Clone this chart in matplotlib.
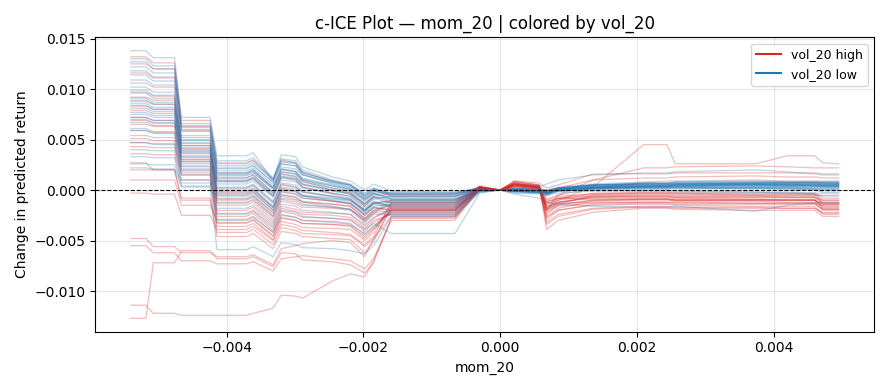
import matplotlib
matplotlib.use("Agg")
import matplotlib.pyplot as plt
from matplotlib.lines import Line2D
import numpy as np

# grid of mom_20 values where the c-ICE curves were evaluated (x 1e-3)
mom_grid = [-5.40, -5.18, -5.07, -4.76, -4.66, -4.24, -4.14, -3.71, -3.61, -3.32,
            -3.20, -2.99, -2.89, -2.45, -2.19, -1.98, -1.85, -1.59, -0.66, -0.30,
            0.00, 0.21, 0.57, 0.68, 0.85, 1.36, 2.10, 2.44, 2.56, 3.73,
            4.20, 4.60, 4.72, 4.95]

# centred change in predicted return (x 1e-3), rows with high vol_20
high_vol_curves = [
    [13.2, 13.2, 12.6, 12.6, 6.9, 6.9, 2.7, 2.7, 3.0, 1.0, 3.0, 2.7, 1.8, 0.9, 0.5, -0.6, 0.0, -0.6, -0.6, 0.3, 0,
     0.5, 0.3, -1.0, -0.6, -0.4, -0.3, -0.3, -0.4, -0.5, -0.5, -0.5, -1.2, -1.2],
    [12.5, 12.5, 12.0, 12.0, 6.3, 6.3, 1.7, 1.7, 2.0, 0.2, 2.1, 1.8, 1.0, 0.2, -0.2, -1.3, -0.6, -1.2, -1.2, 0.4, 0,
     0.7, 0.4, -1.8, -1.2, -0.8, -0.8, -0.8, -0.9, -0.9, -1.0, -1.0, -1.6, -1.6],
    [11.6, 11.6, 11.1, 11.1, 5.9, 5.9, 0.9, 0.9, 1.2, -0.6, 1.3, 1.0, 0.3, -0.3, -0.6, -1.8, -1.1, -1.7, -1.7, 0.2, 0,
     0.6, 0.3, -2.6, -1.8, -1.1, -1.0, -1.0, -1.1, -1.1, -1.2, -1.2, -1.9, -1.9],
    [10.6, 10.6, 10.2, 10.2, 5.2, 5.2, 0.2, 0.2, 0.5, -1.2, 0.6, 0.3, -0.2, -0.6, -0.9, -2.0, -1.3, -1.0, -1.0, 0.3, 0,
     0.4, 0.2, -1.4, -0.9, -0.4, -0.3, -0.3, -0.3, -0.4, -0.4, -0.4, -1.0, -1.0],
    [9.7, 9.7, 9.3, 9.3, 4.6, 4.6, -0.5, -0.5, -0.2, -2.0, -0.1, -0.4, -0.8, -1.1, -1.3, -2.5, -1.7, -2.1, -2.1, 0.2, 0,
     0.8, 0.5, -3.2, -2.4, -1.8, -1.6, -1.6, -1.7, -1.7, -1.8, -1.8, -2.2, -2.2],
    [9.2, 9.2, 8.9, 8.9, 4.4, 4.4, -0.2, -0.2, 0.1, -1.7, 0.2, -0.1, -0.6, -1.1, -1.4, -2.5, -1.8, -1.8, -1.8, 0.3, 0,
     0.7, 0.4, -2.7, -2.0, -1.4, -1.3, -1.3, -1.4, -1.4, -1.4, -1.4, -1.9, -1.9],
    [8.8, 8.8, 8.5, 8.5, 4.1, 4.1, -1.0, -1.0, -0.7, -2.5, -0.6, -0.9, -1.2, -1.4, -1.6, -2.8, -2.0, -1.5, -1.5, 0.3, 0,
     0.6, 0.3, -2.2, -1.6, -1.3, -1.2, -1.2, -1.2, -1.3, -1.3, -1.3, -2.0, -2.0],
    [8.3, 8.3, 8.0, 8.0, 3.8, 3.8, -0.8, -0.8, -0.5, -2.3, -0.4, -0.7, -1.1, -1.4, -1.6, -2.8, -2.0, -2.2, -2.2, 0.2, 0,
     0.6, 0.3, -2.0, -1.5, -1.0, -0.9, -0.9, -1.0, -1.0, -1.0, -1.0, -1.7, -1.7],
    [7.9, 7.9, 7.6, 7.6, 3.6, 3.6, -1.5, -1.5, -1.2, -3.0, -1.1, -1.4, -1.7, -1.8, -2.0, -3.2, -2.4, -2.5, -2.5, 0.1, 0,
     0.9, 0.5, -3.9, -3.0, -2.2, -1.8, -1.8, -1.9, -2.0, -2.0, -2.0, -2.6, -2.6],
    [7.2, 7.2, 6.9, 6.9, 3.2, 3.2, 1.2, 1.2, 1.5, -0.3, 1.6, 1.3, 0.6, 0.0, -0.3, -1.4, -0.6, -0.4, -0.4, 0.3, 0,
     0.4, 0.2, -0.9, -0.5, 0.2, 0.7, 0.7, 0.8, 0.9, 0.8, 0.8, 0.7, 0.7],
    [6.9, 6.9, 6.6, 6.6, 3.0, 3.0, -1.3, -1.3, -1.0, -2.7, -0.9, -1.2, -1.5, -1.7, -1.9, -3.1, -2.3, -1.3, -1.3, 0.2, 0,
     0.5, 0.2, -1.7, -1.2, -0.7, -0.6, -0.6, -0.7, -0.7, -0.7, -0.7, -1.3, -1.3],
    [6.5, 6.5, 6.3, 6.3, 2.8, 2.8, -2.0, -2.0, -1.7, -3.4, -1.6, -1.9, -2.2, -2.3, -2.4, -3.6, -2.8, -1.8, -1.8, 0.2, 0,
     0.6, 0.4, -2.0, -0.5, 1.0, 2.2, 2.2, 2.3, 2.4, 2.3, 2.2, 2.2, 2.2],
    [5.9, 5.9, 5.7, 5.7, 2.4, 2.4, -2.6, -2.6, -2.3, -4.0, -2.1, -2.4, -2.7, -2.8, -2.9, -4.1, -3.2, -2.3, -2.3, 0.1, 0,
     0.7, 0.3, -1.8, -1.0, 0.3, 4.5, 4.5, 2.6, 2.6, 3.4, 3.4, 2.7, 2.6],
    [5.1, 5.1, 4.9, 4.9, 2.0, 2.0, -3.2, -3.2, -2.9, -4.5, -2.7, -3.0, -3.3, -3.4, -3.5, -4.6, -3.8, -2.0, -2.0, 0.2, 0,
     0.5, 0.2, -1.5, -1.0, -0.6, -0.5, -0.5, -0.6, -0.6, -0.7, -0.7, -1.0, -1.0],
    [4.7, 4.7, 4.6, 4.6, 1.7, 1.7, -2.3, -2.3, -2.0, -3.6, -1.8, -2.1, -2.4, -2.5, -2.7, -3.8, -3.0, -2.4, -2.4, 0.2, 0,
     0.6, 0.4, -3.4, -2.6, -1.9, -1.7, -1.7, -1.8, -1.8, -1.8, -1.8, -2.3, -2.3],
    [4.3, 4.3, 4.2, 4.2, 1.5, 1.5, -3.6, -3.6, -3.3, -4.9, -3.1, -3.4, -3.7, -3.8, -3.9, -5.0, -4.2, -1.4, -1.4, 0.3, 0,
     0.3, 0.1, -1.1, -0.8, -0.9, -0.9, -0.9, -1.0, -1.0, -1.0, -1.0, -1.4, -1.4],
    [3.6, 3.6, 3.5, 3.5, 1.0, 1.0, -4.2, -4.2, -3.9, -5.4, -3.7, -4.0, -4.3, -4.4, -4.5, -5.6, -4.8, -2.6, -2.6, 0.1, 0,
     0.6, 0.4, -2.4, -1.4, -0.5, -0.4, -0.4, -0.5, -0.5, -0.5, -0.5, -0.5, -0.5],
    [2.7, 2.7, 2.0, 2.0, -0.8, -0.8, -4.6, -4.6, -4.3, -5.8, -4.1, -4.3, -4.6, -4.8, -4.9, -6.2, -5.1, -1.6, -1.6, 0.4, 0,
     0.8, 0.5, -0.6, 0.2, 1.0, 1.2, 1.2, 1.3, 1.4, 1.3, 1.3, 1.2, 1.2],
    [2.0, 2.0, 2.0, 2.0, -1.0, -1.0, -3.3, -3.3, -3.0, -4.6, -2.8, -3.0, -3.3, -3.4, -3.6, -4.8, -3.9, -2.0, -2.0, 0.3, 0,
     0.5, 0.3, -1.9, -1.4, -1.0, -0.9, -0.9, -1.0, -1.0, -1.0, -1.0, -1.4, -1.4],
    [1.0, 1.0, 1.0, 1.0, -1.5, -1.5, -2.9, -2.9, -2.6, -4.2, -2.4, -2.7, -3.0, -3.1, -3.3, -4.4, -3.6, -2.0, -2.0, 0.2, 0,
     0.4, 0.2, -1.6, -1.3, -1.2, -1.2, -1.2, -1.3, -1.3, -1.3, -1.3, -1.5, -1.5],
    [-0.3, -0.3, -0.4, -0.4, -2.5, -2.5, -3.9, -3.9, -3.6, -5.0, -3.4, -3.7, -4.0, -4.2, -4.4, -5.4, -4.6, -1.2, -1.2, 0.3, 0,
     0.5, 0.3, -2.0, -1.2, -0.7, -0.7, -0.7, -0.8, -0.9, -0.9, -0.9, -1.8, -1.8],
    [-4.8, -4.8, -5.6, -5.6, -6.2, -6.2, -6.6, -6.6, -6.4, -7.4, -5.8, -5.5, -5.3, -5.0, -5.2, -6.6, -4.8, -1.9, -1.9, 0.2, 0,
     0.3, 0.1, -1.2, -0.8, -0.3, -0.2, -0.2, -0.3, -0.3, -0.3, -0.3, -0.8, -0.8],
    [-5.5, -5.5, -6.2, -6.2, -7.0, -7.0, -7.3, -7.3, -7.1, -8.0, -6.8, -6.6, -6.5, -6.8, -7.0, -7.8, -6.8, -3.0, -3.0, 0.1, 0,
     0.4, 0.2, -2.9, -2.0, -1.5, -1.4, -1.4, -1.5, -1.6, -1.6, -1.6, -2.4, -2.4],
    [-12.7, -12.7, -7.2, -7.2, -6.0, -6.0, -6.8, -6.8, -6.6, -7.6, -6.2, -6.3, -6.9, -7.1, -7.4, -8.2, -7.2, -2.7, -2.7, 0.2, 0,
     0.9, 0.7, 0.2, 0.5, 1.6, 1.6, 1.6, 1.7, 1.7, 1.7, 1.7, 1.6, 1.6],
    [-11.4, -11.4, -12.2, -12.2, -12.4, -12.4, -12.4, -12.4, -12.2, -11.7, -10.4, -10.5, -10.7, -9.0, -8.3, -8.6, -7.0, -2.8, -2.8, 0.1, 0,
     0.5, 0.3, -1.3, -0.8, -0.6, -0.6, -0.6, -0.7, -0.7, -0.7, -0.7, -1.3, -1.3],
]

# rows with low vol_20
low_vol_curves = [
    [13.8, 13.8, 13.1, 13.1, 7.2, 7.2, 3.4, 3.4, 3.7, 0.9, 3.5, 3.3, 2.3, 1.3, 0.9, 0.0, 0.6, -0.1, -0.2, 0.2, 0,
     0.1, 0.0, -0.2, 0.1, 0.4, 0.5, 0.5, 0.6, 0.7, 0.7, 0.7, 0.6, 0.6],
    [13.0, 13.0, 12.3, 12.3, 6.6, 6.6, 2.9, 2.9, 3.2, 1.2, 3.1, 2.9, 2.0, 1.0, 0.6, -0.4, 0.2, -0.5, -0.5, 0.1, 0,
     0.2, 0.1, -0.1, 0.2, 0.5, 0.7, 0.7, 0.8, 0.8, 0.8, 0.8, 0.8, 0.8],
    [12.7, 12.7, 12.0, 12.0, 6.4, 6.4, 2.6, 2.6, 2.9, 1.1, 2.9, 2.7, 1.8, 0.8, 0.4, -0.6, 0.0, -0.6, -0.6, 0.1, 0,
     0.1, 0.0, -0.1, 0.2, 0.5, 0.6, 0.6, 0.7, 0.7, 0.7, 0.7, 0.7, 0.7],
    [12.2, 12.2, 11.6, 11.6, 6.2, 6.2, 2.4, 2.4, 2.7, 1.0, 2.8, 2.6, 1.6, 0.6, 0.2, -0.9, -0.3, -0.9, -0.9, 0.0, 0,
     0.0, -0.1, -0.3, 0.0, 0.3, 0.3, 0.4, 0.4, 0.5, 0.5, 0.4, 0.4, 0.4],
    [11.8, 11.8, 11.2, 11.2, 6.0, 6.0, 2.2, 2.2, 2.5, 0.7, 2.6, 2.4, 1.5, 0.7, 0.3, -0.7, -0.1, -0.4, -0.4, 0.1, 0,
     0.1, 0.1, 0.0, 0.2, 0.5, 0.6, 0.6, 0.6, 0.7, 0.7, 0.7, 0.7, 0.7],
    [11.4, 11.4, 10.8, 10.8, 5.8, 5.8, 1.9, 1.9, 2.2, 0.5, 2.3, 2.1, 1.5, 0.8, 0.5, -0.5, 0.1, -0.3, -0.3, 0.2, 0,
     0.1, 0.0, -0.2, 0.1, 0.5, 0.6, 0.6, 0.6, 0.7, 0.7, 0.7, 0.7, 0.7],
    [10.9, 10.9, 10.4, 10.4, 5.4, 5.4, 1.5, 1.5, 1.8, 0.0, 1.8, 1.6, 0.9, 0.0, -0.4, -1.6, -0.8, -1.3, -1.3, 0.0, 0,
     -0.1, -0.2, -0.4, -0.1, 0.1, 0.2, 0.2, 0.3, 0.3, 0.3, 0.3, 0.3, 0.3],
    [10.2, 10.2, 9.7, 9.7, 5.0, 5.0, 1.2, 1.2, 1.5, -0.2, 1.6, 1.4, 0.8, 0.2, -0.1, -1.1, -0.4, -0.7, -0.7, 0.1, 0,
     0.0, -0.1, -0.2, 0.1, 0.4, 0.5, 0.5, 0.5, 0.6, 0.6, 0.5, 0.5, 0.5],
    [9.9, 9.9, 9.4, 9.4, 4.9, 4.9, 1.7, 1.7, 2.0, 0.3, 2.1, 1.9, 1.2, 0.5, 0.1, -0.9, -0.3, -0.9, -0.9, 0.0, 0,
     0.0, -0.1, -0.3, 0.1, 0.4, 0.5, 0.5, 0.6, 0.6, 0.6, 0.6, 0.5, 0.5],
    [9.6, 9.6, 9.1, 9.1, 4.7, 4.7, 0.8, 0.8, 1.1, -0.6, 1.2, 1.0, 0.3, -0.4, -0.8, -2.0, -1.2, -1.6, -1.6, -0.1, 0,
     -0.2, -0.3, -0.5, -0.1, 0.2, 0.4, 0.4, 0.5, 0.6, 0.6, 0.6, 0.6, 0.6],
    [9.1, 9.1, 8.7, 8.7, 4.4, 4.4, 2.1, 2.1, 2.4, 0.8, 2.6, 2.4, 1.7, 0.9, 0.5, -0.3, 0.2, -0.4, -0.4, 0.2, 0,
     0.2, 0.1, 0.0, 0.3, 0.6, 0.8, 0.9, 0.9, 1.0, 0.9, 0.9, 0.9, 0.9],
    [8.9, 8.9, 8.5, 8.5, 4.2, 4.2, -0.3, -0.3, 0.0, -1.7, 0.1, -0.1, -0.5, -0.8, -1.0, -2.0, -1.3, -1.5, -1.5, -0.1, 0,
     -0.1, -0.2, -0.3, 0.0, 0.2, 0.3, 0.3, 0.3, 0.3, 0.3, 0.3, 0.3, 0.3],
    [8.6, 8.6, 8.2, 8.2, 4.0, 4.0, 0.3, 0.3, 0.6, -1.1, 0.7, 0.5, -0.1, -0.6, -0.9, -2.2, -1.3, -1.1, -1.1, 0.0, 0,
     -0.1, -0.2, -0.3, 0.0, 0.2, 0.2, 0.2, 0.2, 0.1, 0.1, 0.0, -0.2, -0.2],
    [8.4, 8.4, 8.0, 8.0, 3.9, 3.9, 0.9, 0.9, 1.2, -0.5, 1.3, 1.1, 0.5, -0.1, -0.4, -1.4, -0.7, -1.0, -1.0, 0.0, 0,
     0.0, -0.1, -0.2, 0.1, 0.3, 0.4, 0.4, 0.4, 0.5, 0.5, 0.5, 0.5, 0.5],
    [8.1, 8.1, 7.8, 7.8, 3.7, 3.7, -0.1, -0.1, 0.2, -1.6, 0.3, 0.1, -0.5, -1.0, -1.3, -2.4, -1.7, -2.0, -2.0, -0.1, 0,
     -0.2, -0.3, -0.4, -0.1, 0.1, 0.1, 0.1, 0.1, 0.2, 0.2, 0.1, 0.0, 0.0],
    [7.7, 7.7, 7.4, 7.4, 3.3, 3.3, 1.0, 1.0, 1.3, -0.3, 1.4, 1.2, 0.6, 0.0, -0.3, -1.4, -0.7, -0.8, -0.8, 0.1, 0,
     0.1, 0.0, -0.1, 0.2, 0.5, 0.6, 0.6, 0.6, 0.6, 0.5, 0.5, 0.4, 0.4],
    [7.5, 7.5, 7.2, 7.2, 3.4, 3.4, 1.6, 1.6, 1.9, 0.2, 2.0, 1.8, 1.1, 0.4, 0.0, -1.0, -0.4, -0.3, -0.3, 0.1, 0,
     0.1, 0.0, -0.1, 0.2, 0.5, 0.7, 0.7, 0.7, 0.8, 0.8, 0.8, 0.8, 0.8],
    [7.2, 7.2, 6.9, 6.9, 3.0, 3.0, -0.6, -0.6, -0.3, -2.0, -0.2, -0.4, -0.8, -1.1, -1.3, -2.3, -1.6, -1.4, -1.4, 0.0, 0,
     -0.1, -0.2, -0.3, 0.0, 0.2, 0.3, 0.3, 0.3, 0.3, 0.3, 0.2, 0.2, 0.2],
    [7.0, 7.0, 6.7, 6.7, 2.8, 2.8, 0.1, 0.1, 0.4, -1.3, 0.5, 0.3, -0.2, -0.7, -1.0, -2.0, -1.3, -1.2, -1.2, 0.0, 0,
     -0.1, -0.2, -0.3, 0.0, 0.2, 0.3, 0.3, 0.4, 0.4, 0.4, 0.4, 0.3, 0.3],
    [6.7, 6.7, 6.4, 6.4, 2.6, 2.6, 0.6, 0.6, 0.9, -0.7, 1.0, 0.8, 0.2, -0.3, -0.6, -1.6, -0.9, -0.6, -0.6, 0.1, 0,
     0.0, -0.1, -0.2, 0.1, 0.3, 0.4, 0.4, 0.5, 0.5, 0.5, 0.5, 0.5, 0.5],
    [6.1, 6.1, 5.8, 5.8, 2.3, 2.3, -1.2, -1.2, -0.9, -2.6, -0.8, -1.0, -1.4, -1.7, -1.9, -2.9, -2.2, -2.4, -2.4, -0.2, 0,
     -0.3, -0.4, -0.5, -0.3, -0.1, -0.1, -0.1, -0.2, -0.2, -0.3, -0.4, -0.6, -0.6],
    [5.9, 5.9, 5.6, 5.6, 2.1, 2.1, -0.4, -0.4, -0.1, -1.8, 0.0, -0.2, -0.6, -0.9, -1.1, -2.1, -1.4, -1.7, -1.7, 0.0, 0,
     0.0, -0.1, -0.2, 0.1, 0.3, 0.4, 0.4, 0.5, 0.5, 0.5, 0.5, 0.5, 0.5],
    [5.4, 5.4, 5.2, 5.2, 1.9, 1.9, -1.8, -1.8, -1.5, -3.2, -1.4, -1.6, -2.0, -2.2, -2.4, -3.4, -2.7, -1.9, -1.9, 0.0, 0,
     -0.1, -0.2, -0.3, 0.0, 0.2, 0.3, 0.3, 0.3, 0.2, 0.2, 0.1, 0.1, 0.1],
    [4.7, 4.7, 4.5, 4.5, 1.5, 1.5, -2.4, -2.4, -2.1, -3.8, -2.0, -2.2, -2.6, -2.8, -3.0, -3.9, -3.3, -4.3, -4.3, -0.3, 0,
     -0.4, -0.8, -1.2, -1.4, -1.6, -1.7, -1.7, -1.6, -2.1, -1.5, -1.3, -1.2, -1.2],
    [4.0, 4.0, 3.9, 3.9, 1.0, 1.0, -3.0, -3.0, -2.7, -4.2, -2.5, -2.7, -3.0, -3.2, -3.4, -4.3, -3.6, -2.2, -2.2, -0.1, 0,
     -0.1, -0.2, -0.3, -0.1, 0.0, 0.0, 0.0, -0.1, -0.2, -0.2, -0.3, -0.3, -0.3],
    [3.3, 3.3, 3.2, 3.2, 0.3, 0.3, -5.9, -5.9, -5.6, -6.6, -5.2, -5.4, -5.7, -5.8, -6.0, -6.3, -5.5, -2.6, -2.6, -0.2, 0,
     -0.1, -0.2, -0.3, 0.0, 0.1, 0.2, 0.2, 0.2, 0.2, 0.1, 0.1, 0.1, 0.1],
    [2.6, 2.6, 2.5, 2.5, 0.7, 0.7, -0.9, -0.9, -0.6, -2.2, -0.5, -0.7, -1.2, -1.6, -1.9, -3.0, -2.2, -1.0, -1.0, 0.0, 0,
     0.1, 0.3, 0.6, 1.0, 1.5, 1.7, 1.7, 1.8, 2.0, 1.8, 1.6, 1.5, 1.5],
    [2.2, 2.2, 2.1, 2.1, 0.4, 0.4, 1.4, 1.4, 1.7, 0.2, 1.8, 1.6, 1.0, 0.4, 0.1, -0.8, -0.2, -0.2, -0.2, 0.1, 0,
     0.0, -0.1, -0.2, 0.1, 0.3, 0.4, 0.4, 0.4, 0.5, 0.4, 0.4, 0.4, 0.4],
]

high_color = "tab:red"
low_color = "tab:blue"

x = np.array(mom_grid) * 1e-3

fig, ax = plt.subplots(figsize=(8.89, 3.9), dpi=100)

# interleave the two groups so neither sits fully on top
n = max(len(high_vol_curves), len(low_vol_curves))
for i in range(n):
    if i < len(high_vol_curves):
        ax.plot(x, np.array(high_vol_curves[i]) * 1e-3, color=high_color, alpha=0.3, linewidth=0.9)
    if i < len(low_vol_curves):
        ax.plot(x, np.array(low_vol_curves[i]) * 1e-3, color=low_color, alpha=0.3, linewidth=0.9)

ax.axhline(0, color="black", linestyle="--", linewidth=0.8)

ax.set_title("c-ICE Plot \u2014 mom_20 | colored by vol_20")
ax.set_xlabel("mom_20")
ax.set_ylabel("Change in predicted return")
ax.grid(True, alpha=0.3)

handles = [Line2D([0], [0], color=high_color, linewidth=1.5, label="vol_20 high"),
           Line2D([0], [0], color=low_color, linewidth=1.5, label="vol_20 low")]
ax.legend(handles=handles, loc="upper right", fontsize=9)

plt.tight_layout()
plt.savefig("out.png", dpi=100)
